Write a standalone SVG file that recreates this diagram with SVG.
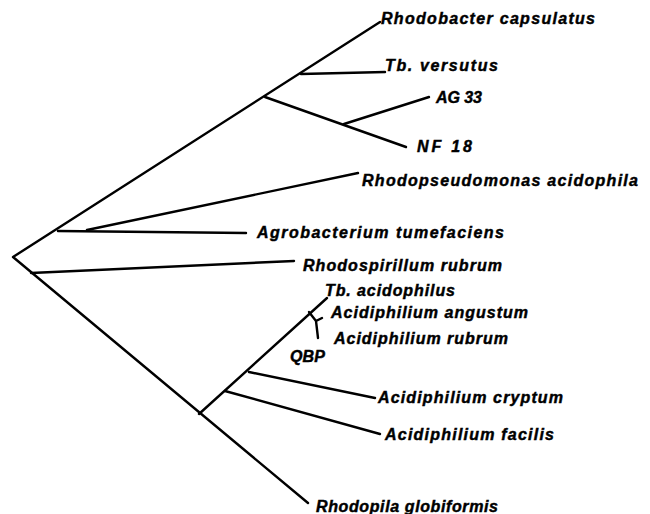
<svg xmlns="http://www.w3.org/2000/svg" width="650" height="514" viewBox="0 0 650 514">
<style>
.br{fill:none;stroke:#000;stroke-width:2.4;stroke-linecap:round;stroke-linejoin:round}
.lb{font-family:"Liberation Sans",Arial,sans-serif;font-weight:bold;font-style:italic;font-size:16px;fill:#000;stroke:#000;stroke-width:0.45}
</style>
<rect width="650" height="514" fill="#fff"/>
<g id="connectors">
<path class="br" d="M380,22 L13,257 L308,503"/>
<path class="br" d="M58,231 L246,233"/>
<path class="br" d="M87,230 L358,173"/>
<path class="br" d="M265,97 L406,147"/>
<path class="br" d="M344,124 L429,97"/>
<path class="br" d="M301,74 L385,72"/>
<path class="br" d="M31,273 L294,261"/>
<path class="br" d="M199,414 L327,298"/>
<path class="br" d="M249,372 L375,398"/>
<path class="br" d="M225,391 L380,434"/>
<path class="br" d="M309,312 L316,321 L318,338 M316,321 L322,318"/>
</g>
<g id="n-rhodobacter"><text class="lb" x="381" y="24" textLength="214" lengthAdjust="spacing">Rhodobacter capsulatus</text></g>
<g id="n-versutus"><text class="lb" x="385" y="71" textLength="113" lengthAdjust="spacing">Tb. versutus</text></g>
<g id="n-ag33"><text class="lb" x="436" y="103" textLength="46" lengthAdjust="spacing">AG 33</text></g>
<g id="n-nf18"><text class="lb" x="417" y="152" textLength="55" lengthAdjust="spacing">NF 18</text></g>
<g id="n-rhodopseudomonas"><text class="lb" x="362" y="186" textLength="276" lengthAdjust="spacing">Rhodopseudomonas acidophila</text></g>
<g id="n-agrobacterium"><text class="lb" x="257" y="238" textLength="247" lengthAdjust="spacing">Agrobacterium tumefaciens</text></g>
<g id="n-rhodospirillum"><text class="lb" x="303" y="271" textLength="199" lengthAdjust="spacing">Rhodospirillum rubrum</text></g>
<g id="n-tbacidophilus"><text class="lb" x="325" y="296" textLength="130" lengthAdjust="spacing">Tb. acidophilus</text></g>
<g id="n-angustum"><text class="lb" x="331" y="318" textLength="197" lengthAdjust="spacing">Acidiphilium angustum</text></g>
<g id="n-rubrum"><text class="lb" x="334" y="344" textLength="174" lengthAdjust="spacing">Acidiphilium rubrum</text></g>
<g id="n-qbp"><text class="lb" x="290" y="362" textLength="35" lengthAdjust="spacing">QBP</text></g>
<g id="n-cryptum"><text class="lb" x="378" y="403" textLength="185" lengthAdjust="spacing">Acidiphilium cryptum</text></g>
<g id="n-facilis"><text class="lb" x="385" y="440" textLength="169" lengthAdjust="spacing">Acidiphilium facilis</text></g>
<g id="n-rhodopila"><text class="lb" x="316" y="512" textLength="182" lengthAdjust="spacing">Rhodopila globiformis</text></g>
</svg>
